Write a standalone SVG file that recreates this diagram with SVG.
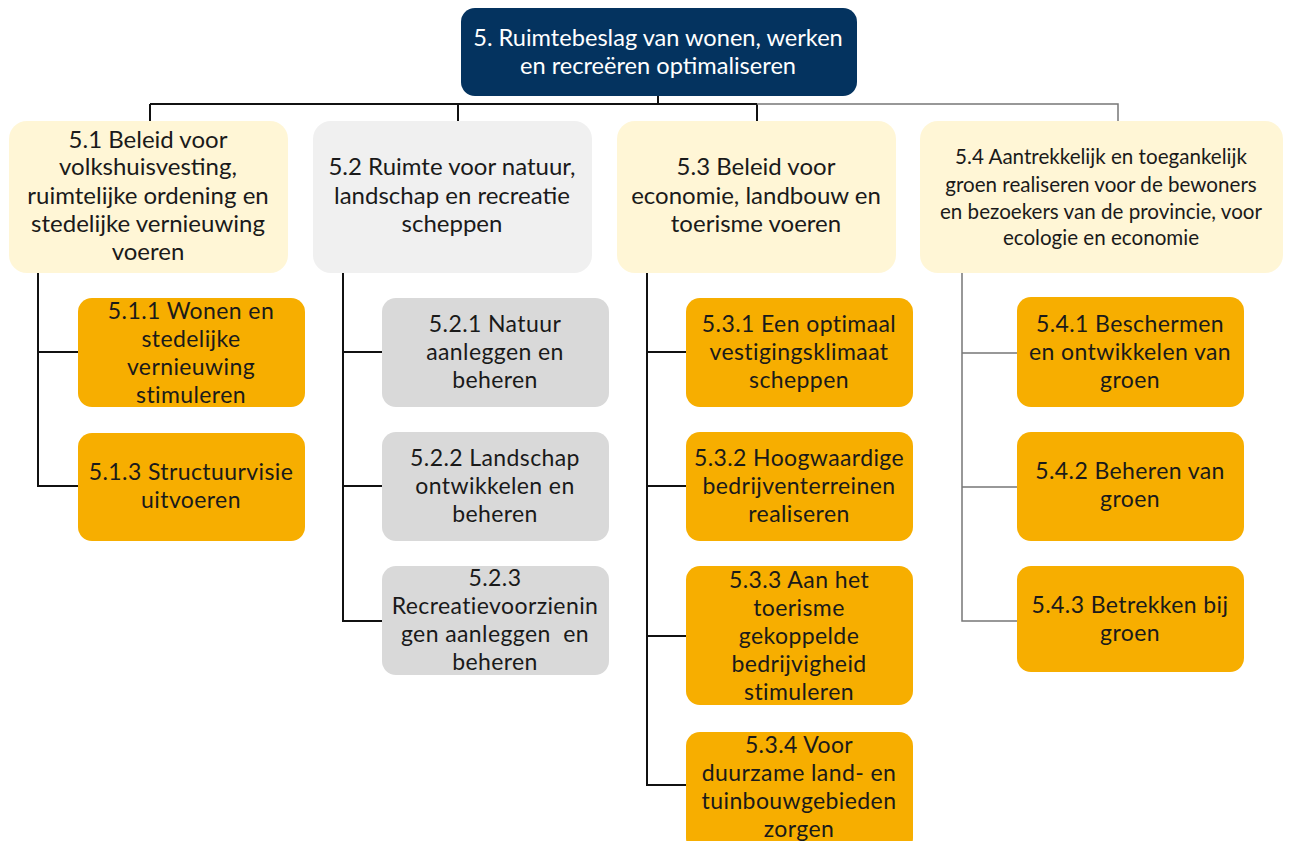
<svg xmlns="http://www.w3.org/2000/svg" width="1312" height="841" viewBox="0 0 1312 841">
<style>
.t{font-family:Lato,"Liberation Sans",sans-serif;font-size:24px;fill:#1a1a1a;text-anchor:middle}
.s{font-size:20.6px}
.r{font-family:Lato,"Liberation Sans",sans-serif;font-size:23.6px;fill:#ffffff;text-anchor:middle}
.c{font-family:Lato,"Liberation Sans",sans-serif;font-size:23px;fill:#1a1a1a;text-anchor:middle;letter-spacing:0.4px}
.cream{fill:#fff6d6}
.lgray{fill:#f0f0f0}
.org{fill:#f7ae00}
.gry{fill:#d9d9d9}
.k{stroke:#111;stroke-width:2;fill:none}
.g{stroke:#777;stroke-width:1.5;fill:none}
</style>
<g id="connectors">
<path class="k" d="M658 96V104M150 104H757M150 104V121M458 104V121M757 104V121"/>
<path class="g" d="M757 104H1118V121"/>
<path class="k" d="M38 273V486H78M38 352H78"/>
<path class="k" d="M343 273V621H382M343 352H382M343 486H382"/>
<path class="k" d="M647 273V785H686M647 352H686M647 486H686M647 636H686"/>
<path class="g" d="M962 273V621H1017M962 353H1017M962 487H1017"/>
</g>
<g id="n5">
<rect x="461" y="8" width="396" height="88" rx="14" fill="#04335f"/>
<text class="r" x="658" y="46">5. Ruimtebeslag van wonen, werken</text>
<text class="r" x="658" y="74">en recreëren optimaliseren</text>
</g>
<g id="n5_1">
<rect class="cream" x="9" y="121" width="279" height="152" rx="18"/>
<text class="t" x="148" y="148">5.1 Beleid voor</text>
<text class="t" x="148" y="175">volkshuisvesting,</text>
<text class="t" x="148" y="204">ruimtelijke ordening en</text>
<text class="t" x="148" y="232">stedelijke vernieuwing</text>
<text class="t" x="148" y="260">voeren</text>
</g>
<g id="n5_2">
<rect class="lgray" x="313" y="121" width="279" height="152" rx="18"/>
<text class="t" x="452" y="175">5.2 Ruimte voor natuur,</text>
<text class="t" x="452" y="204">landschap en recreatie</text>
<text class="t" x="452" y="232">scheppen</text>
</g>
<g id="n5_3">
<rect class="cream" x="617" y="121" width="279" height="152" rx="18"/>
<text class="t" x="756" y="175">5.3 Beleid voor</text>
<text class="t" x="756" y="204">economie, landbouw en</text>
<text class="t" x="756" y="232">toerisme voeren</text>
</g>
<g id="n5_4">
<rect class="cream" x="920" y="121" width="363" height="152" rx="18"/>
<text class="t s" x="1101" y="164">5.4 Aantrekkelijk en toegankelijk</text>
<text class="t s" x="1101" y="192">groen realiseren voor de bewoners</text>
<text class="t s" x="1101" y="219">en bezoekers van de provincie, voor</text>
<text class="t s" x="1101" y="245">ecologie en economie</text>
</g>
<g id="n5_1_1">
<rect class="org" x="78" y="298" width="227" height="109" rx="14"/>
<text class="c" x="191" y="319">5.1.1 Wonen en</text>
<text class="c" x="191" y="347">stedelijke</text>
<text class="c" x="191" y="375">vernieuwing</text>
<text class="c" x="191" y="403">stimuleren</text>
</g>
<g id="n5_1_3">
<rect class="org" x="78" y="433" width="227" height="108" rx="14"/>
<text class="c" x="191" y="480">5.1.3 Structuurvisie</text>
<text class="c" x="191" y="508">uitvoeren</text>
</g>
<g id="n5_2_1">
<rect class="gry" x="382" y="298" width="227" height="109" rx="14"/>
<text class="c" x="495" y="332">5.2.1 Natuur</text>
<text class="c" x="495" y="360">aanleggen en</text>
<text class="c" x="495" y="388">beheren</text>
</g>
<g id="n5_2_2">
<rect class="gry" x="382" y="432" width="227" height="109" rx="14"/>
<text class="c" x="495" y="466">5.2.2 Landschap</text>
<text class="c" x="495" y="494">ontwikkelen en</text>
<text class="c" x="495" y="522">beheren</text>
</g>
<g id="n5_2_3">
<rect class="gry" x="382" y="566" width="227" height="109" rx="14"/>
<text class="c" x="495" y="586">5.2.3</text>
<text class="c" x="495" y="614">Recreatievoorzienin</text>
<text class="c" x="495" y="642" xml:space="preserve">gen aanleggen  en</text>
<text class="c" x="495" y="670">beheren</text>
</g>
<g id="n5_3_1">
<rect class="org" x="686" y="298" width="227" height="109" rx="14"/>
<text class="c" x="799" y="332">5.3.1 Een optimaal</text>
<text class="c" x="799" y="360">vestigingsklimaat</text>
<text class="c" x="799" y="388">scheppen</text>
</g>
<g id="n5_3_2">
<rect class="org" x="686" y="432" width="227" height="109" rx="14"/>
<text class="c" x="799" y="466">5.3.2 Hoogwaardige</text>
<text class="c" x="799" y="494">bedrijventerreinen</text>
<text class="c" x="799" y="522">realiseren</text>
</g>
<g id="n5_3_3">
<rect class="org" x="686" y="566" width="227" height="139" rx="14"/>
<text class="c" x="799" y="588">5.3.3 Aan het</text>
<text class="c" x="799" y="616">toerisme</text>
<text class="c" x="799" y="644">gekoppelde</text>
<text class="c" x="799" y="672">bedrijvigheid</text>
<text class="c" x="799" y="700">stimuleren</text>
</g>
<g id="n5_3_4">
<rect class="org" x="686" y="732" width="227" height="120" rx="14"/>
<text class="c" x="799" y="753">5.3.4 Voor</text>
<text class="c" x="799" y="781">duurzame land- en</text>
<text class="c" x="799" y="809">tuinbouwgebieden</text>
<text class="c" x="799" y="837">zorgen</text>
</g>
<g id="n5_4_1">
<rect class="org" x="1017" y="297" width="227" height="110" rx="14"/>
<text class="c" x="1130" y="332">5.4.1 Beschermen</text>
<text class="c" x="1130" y="360">en ontwikkelen van</text>
<text class="c" x="1130" y="388">groen</text>
</g>
<g id="n5_4_2">
<rect class="org" x="1017" y="432" width="227" height="109" rx="14"/>
<text class="c" x="1130" y="479">5.4.2 Beheren van</text>
<text class="c" x="1130" y="507">groen</text>
</g>
<g id="n5_4_3">
<rect class="org" x="1017" y="566" width="227" height="106" rx="14"/>
<text class="c" x="1130" y="613">5.4.3 Betrekken bij</text>
<text class="c" x="1130" y="641">groen</text>
</g>
</svg>
